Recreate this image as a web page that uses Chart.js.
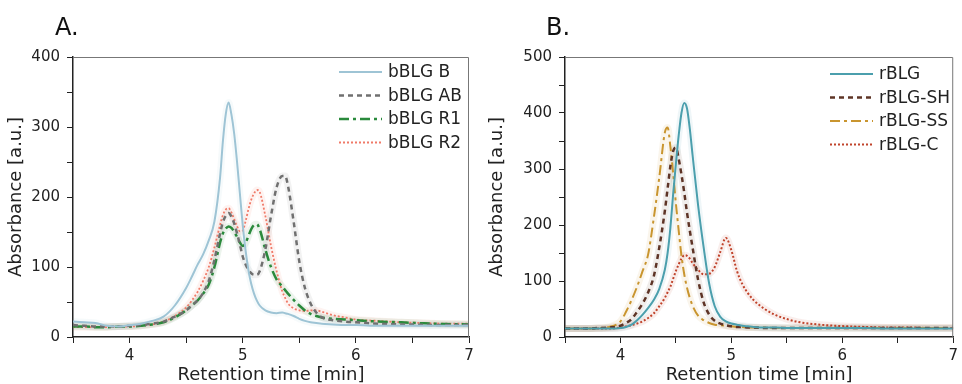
<!DOCTYPE html>
<html>
<head>
<meta charset="utf-8">
<script src="https://cdn.jsdelivr.net/npm/chart.js@4.4.1/dist/chart.umd.min.js"></script>
<style>
  html, body { margin: 0; padding: 0; background: #fff; }
  .panel { position: absolute; top: 0; width: 481px; height: 384px; }
</style>
</head>
<body>
<div class="panel" style="left:0"><canvas id="chartA" width="481" height="384"></canvas></div>
<div class="panel" style="left:481px"><canvas id="chartB" width="481" height="384"></canvas></div>
<script>
// panel A: bovine BLG variants
const timeA = [3.5,3.6,3.7,3.8,3.9,4.0,4.1,4.2,4.3,4.4,4.5,4.55,4.6,4.65,4.7,4.75,4.8,4.825,4.85,4.875,4.9,4.925,4.95,4.975,5.0,5.025,5.05,5.075,5.1,5.125,5.15,5.2,5.25,5.3,5.35,5.375,5.4,5.45,5.5,5.55,5.6,5.65,5.7,5.8,5.9,6.0,6.2,6.4,6.6,6.8,7.0];
const bBLG_B  = [22,21,20,16,15,17,19,23,29,45,70,86,103,118,138,165,228,280,318,335,318,290,250,205,160,124,96,76,62,52,45,38,35,34,35,34,33,30,26,23,21,20,19,18,17,17,16,16,16,16,16];
const bBLG_AB = [17,16,15,15,15,16,17,19,22,29,38,45,52,63,80,110,148,164,173,177,172,162,148,132,115,104,96,91,89,89,94,125,173,214,230,230,216,165,108,70,48,35,28,24,22,21,19,18,17.5,17,17];
const bBLG_R1 = [15,15,14,14,15,15,16,18,21,28,38,45,52,62,75,100,135,148,155,158,156,150,143,135,130,134,144,154,160,161,154,125,100,82,72,67,62,53,45,38,33,30,28,26,25,24,22,21,19.5,18.5,18];
const bBLG_R2 = [14,14,14,14,15,15,16,18,22,30,42,52,64,80,100,128,160,174,182,184,178,168,158,151,152,165,182,196,205,210,207,173,130,94,65,56,48,41,38,37,38,38,36,31,28,25,23,21,20,19,19];

// panel B: recombinant BLG variants
const timeB = [3.5,3.6,3.7,3.8,3.9,4.0,4.05,4.1,4.15,4.2,4.25,4.3,4.35,4.4,4.425,4.45,4.475,4.5,4.525,4.55,4.575,4.6,4.625,4.65,4.7,4.75,4.8,4.85,4.9,4.95,5.0,5.05,5.1,5.15,5.2,5.3,5.4,5.5,5.6,5.8,6.0,6.2,6.4,6.6,6.8,7.0];
const rBLG    = [15,15,15,15,15,16,18,22,30,40,52,66,86,120,150,195,255,310,360,400,418,408,372,325,235,160,95,55,36,28,24,22,20,19,18,17,17,16,16,16,16,16,15,15,15,15];
const rBLG_SH = [15,15,15,16,17,20,25,32,45,60,80,108,160,225,265,305,332,338,318,290,258,222,190,160,102,62,40,29,24,21,19,18,18,17,17,16,16,16,16,16,16,16,16,16,16,16];
const rBLG_SS = [15,15,15,16,18,28,45,66,90,118,148,212,285,365,374,340,292,238,190,145,112,88,70,56,38,30,25,22,21,20,19,18,18,17,17,17,16,16,16,16,16,16,16,16,16,16];
const rBLG_C  = [15,15,15,15,15,17,19,21,24,28,34,42,55,70,80,90,104,118,130,140,146,145,140,132,120,112,113,125,152,177,155,118,94,78,66,50,39,32,27,22,19.5,18,17,17,16,16];

const FONT = "'DejaVu Sans', Verdana, sans-serif";

const frameAndLegend = {
  id: "frameAndLegend",
  afterDraw(chart, args, opts) {
    const ctx = chart.ctx;
    const a = chart.chartArea;
    ctx.save();
    // top and right frame lines
    ctx.strokeStyle = "#777";
    ctx.lineWidth = 1;
    ctx.beginPath();
    ctx.moveTo(a.left, a.top + 0.5);
    ctx.lineTo(a.right - 0.5, a.top + 0.5);
    ctx.lineTo(a.right - 0.5, a.bottom);
    ctx.stroke();

    // legend (main lines only)
    const main = chart.data.datasets.filter(d => !d.band);
    main.forEach((d, i) => {
      const y = opts.top + i * 23.5;
      ctx.strokeStyle = d.borderColor;
      ctx.lineWidth = d.borderWidth;
      ctx.setLineDash(d.borderDash || []);
      ctx.beginPath();
      ctx.moveTo(opts.left, y);
      ctx.lineTo(opts.left + 43, y);
      ctx.stroke();
      ctx.setLineDash([]);
      ctx.fillStyle = "#222";
      ctx.font = "17px " + FONT;
      ctx.textBaseline = "middle";
      ctx.textAlign = "left";
      ctx.fillText(d.label, opts.left + 49, y + 1);
    });

    // panel letter
    ctx.fillStyle = "#111";
    ctx.font = "24px " + FONT;
    ctx.textBaseline = "alphabetic";
    ctx.fillText(opts.tag, opts.tagX, 35);
    ctx.restore();
  }
};

function rgba(hex, a) {
  const n = parseInt(hex.slice(1), 16);
  return `rgba(${(n >> 16) & 255},${(n >> 8) & 255},${n & 255},${a})`;
}

function makeChart(id, time, series, yMax, axisW, padRight, legend) {
  const datasets = [];
  series.forEach(s => {
    const pts = time.map((t, i) => ({ x: t, y: s.values[i] }));
    datasets.push({
      label: "", band: true, data: pts,
      borderColor: rgba(s.color, 0.09), borderWidth: 7,
      pointRadius: 0, cubicInterpolationMode: "monotone", order: 2
    });
    datasets.push({
      label: s.name, data: pts,
      borderColor: s.color, borderWidth: s.width, borderDash: s.dash,
      pointRadius: 0, cubicInterpolationMode: "monotone", order: 1
    });
  });

  return new Chart(document.getElementById(id), {
    type: "line",
    data: { datasets },
    plugins: [frameAndLegend],
    options: {
      responsive: false,
      animation: false,
      layout: { padding: { top: 57, right: padRight, left: 0, bottom: 0 } },
      plugins: {
        legend: { display: false },
        tooltip: { enabled: false },
        frameAndLegend: legend
      },
      scales: {
        x: {
          type: "linear", min: 3.5, max: 7,
          afterFit: (s) => { s.height = 47; },
          border: { color: "#222", width: 1.5 },
          grid: { drawOnChartArea: false, tickLength: 6, tickColor: "#222" },
          ticks: {
            stepSize: 0.5, padding: 4, color: "#222",
            font: { family: FONT, size: 15 },
            callback: v => Number.isInteger(v) ? String(v) : ""
          },
          title: {
            display: true, text: "Retention time [min]", color: "#222",
            font: { family: FONT, size: 18 }, padding: { top: 0, bottom: -2 }
          }
        },
        y: {
          min: 0, max: yMax,
          afterFit: (s) => { s.width = axisW; },
          border: { color: "#222", width: 1.5 },
          grid: { drawOnChartArea: false, tickLength: 6, tickColor: "#222" },
          ticks: {
            stepSize: 50, padding: 7, color: "#222",
            font: { family: FONT, size: 15 },
            callback: v => v % 100 === 0 ? String(v) : ""
          },
          title: {
            display: true, text: "Absorbance [a.u.]", color: "#222",
            font: { family: FONT, size: 18 }, padding: { top: 6, bottom: 0 }
          }
        }
      }
    }
  });
}

makeChart("chartA", timeA, [
  { name: "bBLG B",  values: bBLG_B,  color: "#9ec4d5", width: 2,   dash: [] },
  { name: "bBLG AB", values: bBLG_AB, color: "#707070", width: 2.5, dash: [5, 4] },
  { name: "bBLG R1", values: bBLG_R1, color: "#2a8a3c", width: 2.5, dash: [10, 4, 3, 4] },
  { name: "bBLG R2", values: bBLG_R2, color: "#f07a68", width: 1.8, dash: [2, 2] }
], 400, 73, 12, { left: 339, top: 72, tag: "A.", tagX: 55 });

makeChart("chartB", timeB, [
  { name: "rBLG",    values: rBLG,    color: "#4b9fad", width: 2,   dash: [] },
  { name: "rBLG-SH", values: rBLG_SH, color: "#5e3426", width: 2.5, dash: [5, 4] },
  { name: "rBLG-SS", values: rBLG_SS, color: "#c9952f", width: 2,   dash: [10, 4, 3, 4] },
  { name: "rBLG-C",  values: rBLG_C,  color: "#c0432b", width: 2,   dash: [2, 2] }
], 500, 84, 3, { left: 349, top: 74, tag: "B.", tagX: 65 });
</script>
</body>
</html>
